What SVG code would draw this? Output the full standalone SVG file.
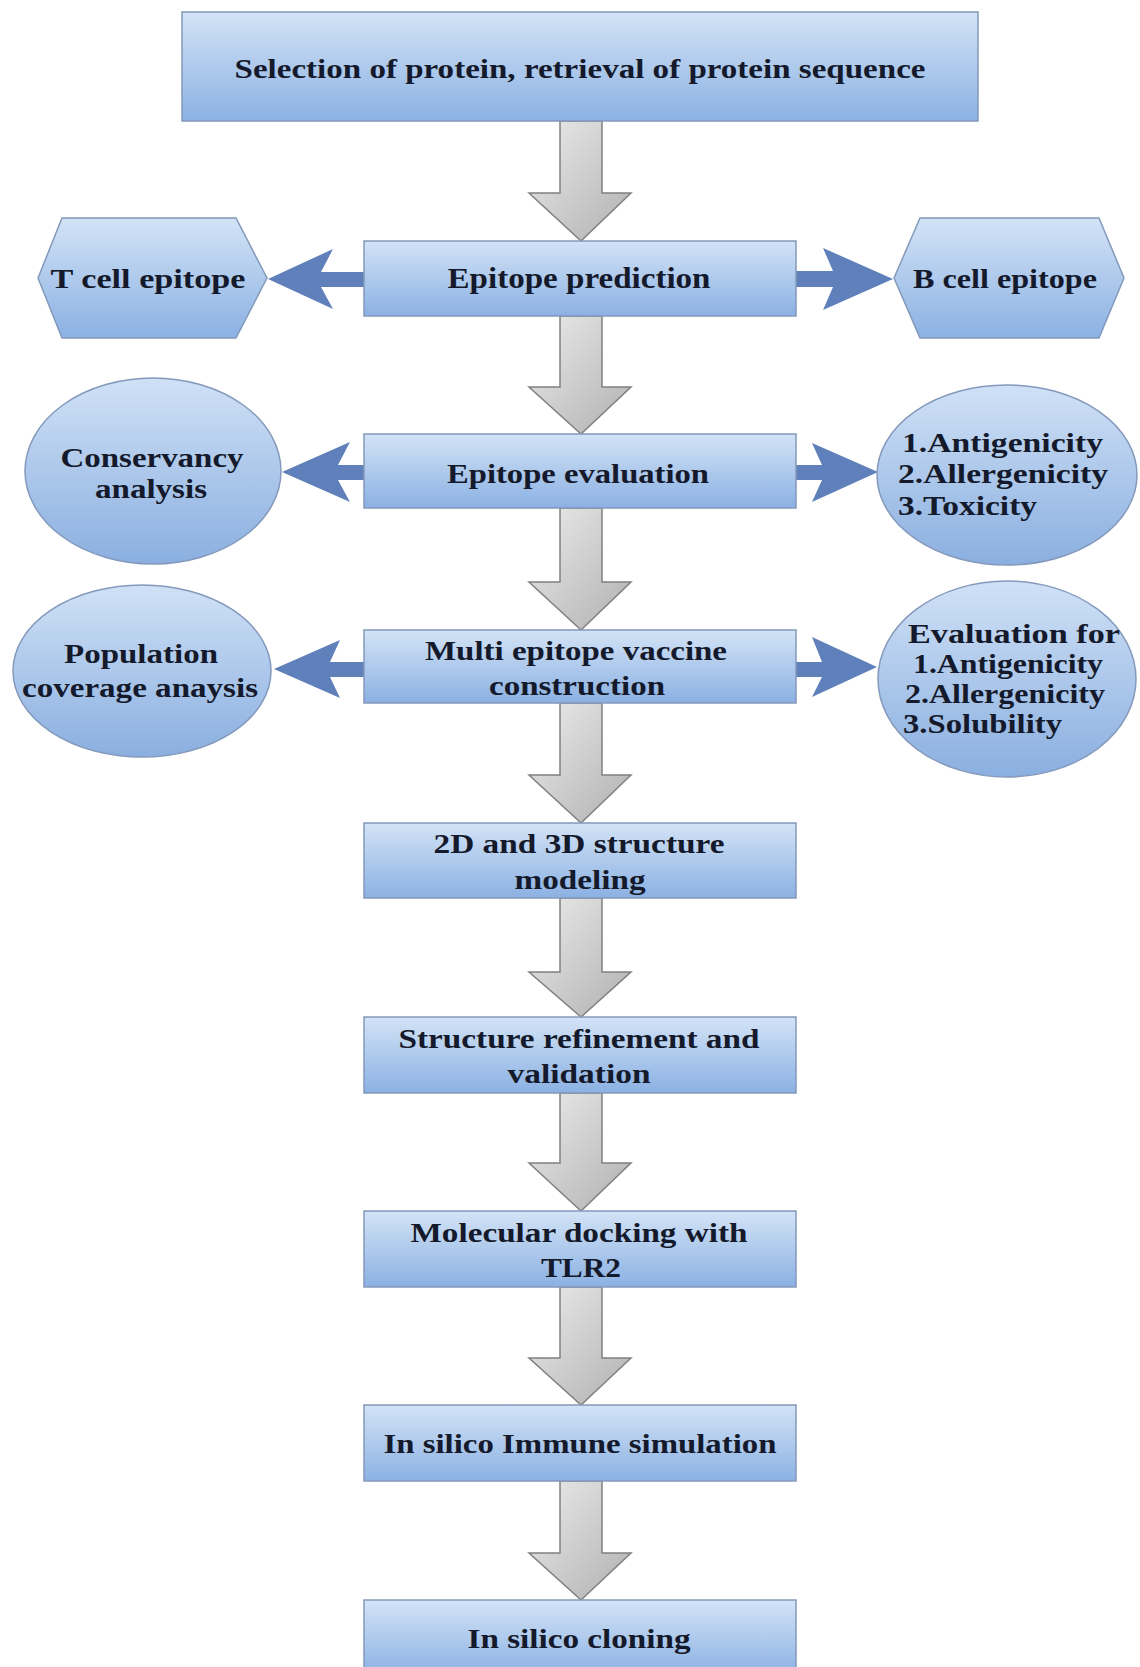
<svg xmlns="http://www.w3.org/2000/svg" width="1140" height="1667" viewBox="0 0 1140 1667">
<defs>
<linearGradient id="gBox" x1="0" y1="0" x2="0" y2="1">
<stop offset="0" stop-color="#d3e3f6"/>
<stop offset="1" stop-color="#8bb1e3"/>
</linearGradient>
<linearGradient id="gOval" x1="0" y1="0" x2="0" y2="1">
<stop offset="0" stop-color="#d0e1f6"/>
<stop offset="1" stop-color="#8aafe0"/>
</linearGradient>
<linearGradient id="gGray" x1="0" y1="0" x2="1" y2="1">
<stop offset="0" stop-color="#ececec"/>
<stop offset="1" stop-color="#b0b0b0"/>
</linearGradient>
<style>
.box{fill:url(#gBox);stroke:#8499bb;stroke-width:1.5}
.oval{fill:url(#gOval);stroke:#8499bb;stroke-width:1.5}
.down{fill:url(#gGray);stroke:#808080;stroke-width:1.5;stroke-linejoin:miter}
.side{fill:#5f80bb;stroke:none}
text{font-family:"Liberation Serif","Times New Roman",serif;font-weight:bold;font-size:27px;fill:#141a2b}
.c{text-anchor:middle}
</style>
</defs>
<rect width="1140" height="1667" fill="#ffffff"/>

<g id="connectors">
<path class="down" d="M560,121 H602 V193 H631 L581,241 L529,193 H560 Z"/>
<path class="down" d="M560,316 H602 V387 H631 L581,434 L529,387 H560 Z"/>
<path class="down" d="M560,508 H602 V582 H631 L581,630 L529,582 H560 Z"/>
<path class="down" d="M560,703 H602 V775 H631 L581,823 L529,775 H560 Z"/>
<path class="down" d="M560,898 H602 V972 H631 L581,1017 L529,972 H560 Z"/>
<path class="down" d="M560,1093 H602 V1163 H631 L581,1211 L529,1163 H560 Z"/>
<path class="down" d="M560,1287 H602 V1358 H631 L581,1405 L529,1358 H560 Z"/>
<path class="down" d="M560,1481 H602 V1553 H631 L581,1600 L529,1553 H560 Z"/>

<path class="side" d="M365,272 H321 L333,249 L268,279 L333,309 L321,287 H365 Z"/>
<path class="side" d="M795,271 H833 L823,248 L893,279 L823,310 L833,287 H795 Z"/>
<path class="side" d="M365,465 H338 L350,442 L282,472 L350,502 L338,480 H365 Z"/>
<path class="side" d="M795,465 H822 L812,443 L878,472 L812,502 L822,480 H795 Z"/>
<path class="side" d="M365,662 H330 L340,640 L274,669 L340,698 L330,677 H365 Z"/>
<path class="side" d="M795,662 H822 L812,637 L877,667 L812,697 L822,677 H795 Z"/>
</g>

<g id="n-selection">
<rect class="box" x="182" y="12" width="796" height="109"/>
<text class="c" x="580" y="78" textLength="691" lengthAdjust="spacingAndGlyphs" style="font-size:28px">Selection of protein, retrieval of protein sequence</text>
</g>

<g id="n-epitope-prediction">
<rect class="box" x="364" y="241" width="432" height="75"/>
<text class="c" x="579" y="288" textLength="263" lengthAdjust="spacingAndGlyphs" style="font-size:29px">Epitope prediction</text>
</g>

<g id="n-tcell">
<polygon class="box" points="38,278 62,218 236,218 267,278 236,338 62,338"/>
<text class="c" x="148" y="288" textLength="195" lengthAdjust="spacingAndGlyphs">T cell epitope</text>
</g>

<g id="n-bcell">
<polygon class="box" points="894,278 920,218 1099,218 1124,278 1099,338 920,338"/>
<text class="c" x="1005" y="288" textLength="184" lengthAdjust="spacingAndGlyphs">B cell epitope</text>
</g>

<g id="n-epitope-evaluation">
<rect class="box" x="364" y="434" width="432" height="74"/>
<text class="c" x="578" y="483" textLength="262" lengthAdjust="spacingAndGlyphs">Epitope evaluation</text>
</g>

<g id="n-conservancy">
<ellipse class="oval" cx="153" cy="471" rx="128" ry="93"/>
<text class="c" x="152" y="467" textLength="183" lengthAdjust="spacingAndGlyphs">Conservancy</text>
<text class="c" x="151" y="498" textLength="112" lengthAdjust="spacingAndGlyphs">analysis</text>
</g>

<g id="n-eval-criteria">
<ellipse class="oval" cx="1007" cy="475" rx="130" ry="90"/>
<text x="902" y="452" textLength="201" lengthAdjust="spacingAndGlyphs">1.Antigenicity</text>
<text x="898" y="483" textLength="210" lengthAdjust="spacingAndGlyphs">2.Allergenicity</text>
<text x="898" y="515" textLength="139" lengthAdjust="spacingAndGlyphs">3.Toxicity</text>
</g>

<g id="n-multi">
<rect class="box" x="364" y="630" width="432" height="73"/>
<text class="c" x="576" y="660" textLength="302" lengthAdjust="spacingAndGlyphs">Multi epitope vaccine</text>
<text class="c" x="577" y="695" textLength="176" lengthAdjust="spacingAndGlyphs">construction</text>
</g>

<g id="n-population">
<ellipse class="oval" cx="142" cy="671" rx="129" ry="86"/>
<text class="c" x="141" y="663" textLength="154" lengthAdjust="spacingAndGlyphs">Population</text>
<text class="c" x="140" y="697" textLength="236" lengthAdjust="spacingAndGlyphs">coverage anaysis</text>
</g>

<g id="n-vaccine-eval">
<ellipse class="oval" cx="1007" cy="679" rx="129" ry="98"/>
<text x="908" y="643" textLength="212" lengthAdjust="spacingAndGlyphs">Evaluation for</text>
<text x="913" y="673" textLength="190" lengthAdjust="spacingAndGlyphs">1.Antigenicity</text>
<text x="905" y="703" textLength="200" lengthAdjust="spacingAndGlyphs">2.Allergenicity</text>
<text x="903" y="733" textLength="159" lengthAdjust="spacingAndGlyphs">3.Solubility</text>
</g>

<g id="n-structure-modeling">
<rect class="box" x="364" y="823" width="432" height="75"/>
<text class="c" x="579" y="853" textLength="291" lengthAdjust="spacingAndGlyphs">2D and 3D structure</text>
<text class="c" x="580" y="889" textLength="131" lengthAdjust="spacingAndGlyphs">modeling</text>
</g>

<g id="n-refinement">
<rect class="box" x="364" y="1017" width="432" height="76"/>
<text class="c" x="579" y="1048" textLength="361" lengthAdjust="spacingAndGlyphs">Structure refinement and</text>
<text class="c" x="579" y="1083" textLength="143" lengthAdjust="spacingAndGlyphs">validation</text>
</g>

<g id="n-docking">
<rect class="box" x="364" y="1211" width="432" height="76"/>
<text class="c" x="579" y="1242" textLength="337" lengthAdjust="spacingAndGlyphs">Molecular docking with</text>
<text class="c" x="581" y="1277" textLength="80" lengthAdjust="spacingAndGlyphs">TLR2</text>
</g>

<g id="n-immune">
<rect class="box" x="364" y="1405" width="432" height="76"/>
<text class="c" x="580" y="1453" textLength="393" lengthAdjust="spacingAndGlyphs">In silico Immune simulation</text>
</g>

<g id="n-cloning">
<rect class="box" x="364" y="1600" width="432" height="76"/>
<text class="c" x="579" y="1648" textLength="223" lengthAdjust="spacingAndGlyphs">In silico cloning</text>
</g>
</svg>
